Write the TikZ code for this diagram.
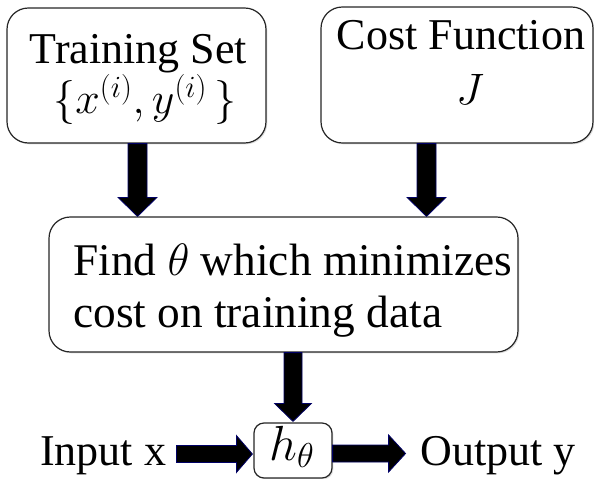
\documentclass[tikz,border=0pt]{standalone}
\usepackage{fix-cm}
\usepackage{fontspec}
\setmainfont{Liberation Serif}
\usetikzlibrary{calc,shadows}

\tikzset{
  roundbox/.style={draw=black!85, line width=0.9pt, fill=white, rounded corners=16pt,
    inner sep=0pt, drop shadow={shadow xshift=1pt, shadow yshift=-1pt, opacity=0.25}},
  smallbox/.style={roundbox, rounded corners=7.5pt},
  txt/.style={inner sep=0pt, font=\fontsize{33}{39}\selectfont},
  bigtxt/.style={inner sep=0pt, font=\fontsize{34}{40}\selectfont},
  blockarrow/.style={fill=black, draw=blue!40!black, line width=0.6pt, line join=miter},
}

% vertical block arrow: start, tip, shaft half-width, head half-width, head length
\newcommand\vblock[5]{%
  \filldraw[blockarrow] ($(#1)+(-#3,0)$) -- ($(#1)+(#3,0)$) -- ($(#2)+(#3,-#5)$)
    -- ($(#2)+(#4,-#5)$) -- (#2) -- ($(#2)+(-#4,-#5)$) -- ($(#2)+(-#3,-#5)$) -- cycle;}
% horizontal block arrow: start, tip, shaft half-height, head half-height, head length
\newcommand\hblock[5]{%
  \filldraw[blockarrow] ($(#1)+(0,-#3)$) -- ($(#2)+(-#5,-#3)$) -- ($(#2)+(-#5,-#4)$)
    -- (#2) -- ($(#2)+(-#5,#4)$) -- ($(#2)+(-#5,#3)$) -- ($(#1)+(0,#3)$) -- cycle;}

\begin{document}
\begin{tikzpicture}[x=0.75pt, y=-0.75pt]
\useasboundingbox (0,0) rectangle (594,479);

% boxes
\node[roundbox, minimum width=194.25pt, minimum height=101.25pt] (tr) at (136.5,75.5) {};
\node[roundbox, minimum width=204pt, minimum height=102pt] (cost) at (457,75) {};
\node[roundbox, minimum width=351.75pt, minimum height=101.25pt] (find) at (283.5,284.5) {};
\node[smallbox, minimum width=58.5pt, minimum height=41.25pt] (hbox) at (293,450.5) {};

% texts
\node[txt, anchor=base] (trA) at (138.5,63) {Training Set};
\node[txt, anchor=base] (trB) at (145,113) {$\{x^{(i)}, y^{(i)}\,\}$};
\node[txt, anchor=base] (costA) at (461,49) {Cost Function};
\node[txt, anchor=base] (costB) at (470,104) {$J$};
\node[bigtxt, anchor=base west] (findA) at (73,275) {Find $\theta$ which minimizes};
\node[bigtxt, anchor=base west] (findB) at (73,327) {cost on training data};
\node[inner sep=0pt, font=\fontsize{37}{40}\selectfont, anchor=base] (hth) at (292,460) {$h_\theta$};
\node[txt, anchor=base west] (inp) at (40,465) {Input x};
\node[txt, anchor=base west] (outp) at (420,465) {Output y};

% arrow end points
\coordinate (a1s) at ($(tr.south)+(1,0)$);
\coordinate (a1e) at (a1s |- find.north);
\coordinate (a2s) at ($(cost.south)+(-30.5,0)$);
\coordinate (a2e) at (a2s |- find.north);
\coordinate (a3s) at (find.south -| hbox.north);
\coordinate (a3e) at ($(hbox.north)+(0,-1)$);
\coordinate (a4e) at ($(hbox.west)+(-1,3.5)$);
\coordinate (a4s) at ($(a4e)+(-76,0)$);
\coordinate (a5s) at ($(hbox.east)+(0,3)$);
\coordinate (a5e) at ($(a5s)+(73,0)$);

% block arrows
\vblock{a1s}{a1e}{9.5}{19.5}{19}
\vblock{a2s}{a2e}{9.5}{19.5}{19}
\vblock{a3s}{a3e}{9}{18.5}{18}
\hblock{a4s}{a4e}{8.5}{18.5}{16}
\hblock{a5s}{a5e}{8.5}{18.5}{17}
\end{tikzpicture}
\end{document}
